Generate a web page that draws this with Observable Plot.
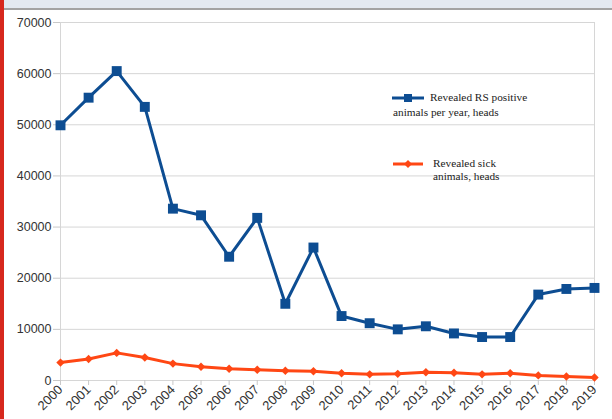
<!DOCTYPE html>
<html><head><meta charset="utf-8">
<script src="https://cdn.jsdelivr.net/npm/d3@7"></script>
<script src="https://cdn.jsdelivr.net/npm/@observablehq/plot@0.6"></script>
<style>
html,body{margin:0;padding:0;background:#fff}
body{width:612px;height:419px;overflow:hidden;position:relative;font-family:"Liberation Sans",Arial,sans-serif}
#hdr{position:absolute;left:0;top:0;width:612px;height:8px;background:#e3e9f1;border-bottom:2px solid #a3a3a3;z-index:2}
#bar{position:absolute;left:0;top:0;width:4px;height:419px;background:#d7281d;z-index:3}
#chart{position:absolute;left:0;top:0}
.leg{position:absolute;font-family:"Liberation Serif","Times New Roman",serif;font-size:11.3px;color:#222;line-height:14px;white-space:nowrap}
.sym{position:absolute}
</style></head>
<body>
<div id="chart"></div><div id="hdr"></div><div id="bar"></div>
<svg class="sym" style="left:390px;top:91px" width="36" height="14"><line x1="2" y1="7" x2="34" y2="7" stroke="#0d4d92" stroke-width="3"/><rect x="14" y="3" width="8" height="8" fill="#0d4d92"/></svg>
<div class="leg" style="left:430px;top:90px">Revealed RS positive</div>
<div class="leg" style="left:393px;top:105px">animals per year, heads</div>
<svg class="sym" style="left:390px;top:157px" width="36" height="14"><line x1="3" y1="7" x2="33" y2="7" stroke="#ff4714" stroke-width="3"/><path d="M18,3L22,7L18,11L14,7Z" fill="#ff4714"/></svg>
<div class="leg" style="left:433px;top:156px">Revealed sick</div>
<div class="leg" style="left:433px;top:169px">animals, heads</div>
<script>
const years = [2000,2001,2002,2003,2004,2005,2006,2007,2008,2009,2010,2011,2012,2013,2014,2015,2016,2017,2018,2019];
const positive = [49900,55300,60500,53500,33600,32300,24200,31800,15000,26000,12600,11200,10000,10600,9200,8500,8500,16800,17900,18100];
const sick = [3500,4200,5400,4500,3300,2700,2300,2100,1900,1800,1400,1200,1300,1600,1500,1200,1400,1000,800,600];
const yTicks = [0,10000,20000,30000,40000,50000,60000,70000];

const pos = years.map((y,i)=>({year:y, value:positive[i]}));
const sk = years.map((y,i)=>({year:y, value:sick[i]}));
const blue = "#0d4d92", red = "#ff4714";

const chart = Plot.plot({
  width: 612, height: 419,
  marginLeft: 60, marginTop: 22, marginRight: 18, marginBottom: 39,
  style: {fontFamily: "'Liberation Sans', Arial, sans-serif", fontSize: "12px", color: "#333", background: "transparent"},
  x: {domain: [2000, 2019], label: null},
  y: {domain: [0, 70000], label: null},
  marks: [
    Plot.gridY(yTicks, {stroke: "#d6d6d6", strokeOpacity: 1}),
    Plot.frame({stroke: "#d6d6d6"}),
    Plot.axisY(yTicks, {tickSize: 7, tickPadding: 2, stroke: "#c8c8c8", fill: "#333", fontSize: 12.5, tickFormat: d => String(d), label: null}),
    Plot.axisX(years, {tickRotate: -45, tickSize: 5, tickPadding: 2, stroke: "#c8c8c8", fill: "#333", fontSize: 13, tickFormat: d => String(d), label: null}),
    Plot.line(sk, {x: "year", y: "value", stroke: red, strokeWidth: 3}),
    Plot.dot(sk, {x: "year", y: "value", symbol: "diamond2", r: 3.8, fill: red, stroke: "none"}),
    Plot.line(pos, {x: "year", y: "value", stroke: blue, strokeWidth: 3}),
    Plot.dot(pos, {x: "year", y: "value", symbol: "square", r: 5.6, fill: blue, stroke: "none"})
  ]
});
document.getElementById("chart").appendChild(chart);
</script>
</body></html>
